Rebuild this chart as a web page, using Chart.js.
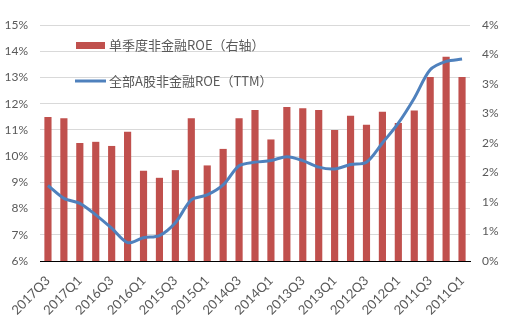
<!DOCTYPE html>
<html>
<head>
<meta charset="utf-8">
<script src="https://cdn.jsdelivr.net/npm/chart.js@4.4.0/dist/chart.umd.min.js"></script>
<style>
html,body{margin:0;padding:0;background:#fff;}
#wrap{width:512px;height:324px;}
</style>
</head>
<body>
<div id="wrap"><canvas id="c" width="512" height="324"></canvas></div>
<script>
const categories = ['2017Q3','2017Q2','2017Q1','2016Q4','2016Q3','2016Q2','2016Q1','2015Q4','2015Q3','2015Q2','2015Q1','2014Q4','2014Q3','2014Q2','2014Q1','2013Q4','2013Q3','2013Q2','2013Q1','2012Q4','2012Q3','2012Q2','2012Q1','2011Q4','2011Q3','2011Q2','2011Q1'];
const quarterlyROE = [2.44,2.42,2.00,2.02,1.95,2.19,1.53,1.41,1.54,2.42,1.62,1.90,2.42,2.56,2.06,2.61,2.59,2.56,2.22,2.46,2.31,2.53,2.34,2.55,3.12,3.46,3.12];
const ttmROE = [8.88,8.39,8.20,7.76,7.25,6.70,6.89,6.97,7.46,8.33,8.52,8.90,9.63,9.77,9.83,9.98,9.83,9.58,9.51,9.68,9.77,10.50,11.26,12.21,13.29,13.61,13.70];
const seriesNames = ['单季度非金融ROE（右轴）','全部A股非金融ROE（TTM）'];
const leftTicks = [6,15,1];
const rightTicks = [0,4,0.5];

const RED = '#C0504D', BLUE = '#4F81BD', TXT = '#595959';
const tickFont = {family:'Lato, "Noto Sans", sans-serif', size:12};

const legendPlugin = {
  id:'insideLegend',
  afterDatasetsDraw(chart){
    const ctx = chart.ctx;
    ctx.save();
    ctx.fillStyle = RED;
    ctx.fillRect(76,42,29,7);
    ctx.strokeStyle = BLUE; ctx.lineWidth = 3;
    ctx.beginPath(); ctx.moveTo(75,81); ctx.lineTo(106,81); ctx.stroke();
    ctx.fillStyle = TXT;
    ctx.font = '13px "Noto Sans CJK SC", sans-serif';
    ctx.textBaseline = 'middle';
    ctx.fillText(chart.data.datasets[1].label,109,45);
    ctx.fillText(chart.data.datasets[0].label,109,81);
    ctx.restore();
  }
};

new Chart(document.getElementById('c'),{
  data:{
    labels:categories,
    datasets:[
      {type:'line',label:seriesNames[1],data:ttmROE,yAxisID:'yL',borderColor:BLUE,backgroundColor:BLUE,borderWidth:3,pointRadius:0,tension:0.3,order:0},
      {type:'bar',label:seriesNames[0],data:quarterlyROE,yAxisID:'yR',backgroundColor:RED,barPercentage:0.9,categoryPercentage:0.5,order:1}
    ]
  },
  options:{
    responsive:false,
    animation:false,
    layout:{padding:{top:25,left:0,right:0,bottom:0}},
    plugins:{legend:{display:false},tooltip:{enabled:false}},
    scales:{
      x:{
        grid:{display:false,drawTicks:false},
        border:{color:'#000',width:1},
        ticks:{autoSkip:false,maxRotation:45,minRotation:45,padding:12,color:TXT,font:{family:'Lato, "Noto Sans", sans-serif',size:13},
          callback:function(v,i){return i%2===0?this.getLabelForValue(v):'';}},
        afterFit(s){s.height=63;}
      },
      yL:{
        position:'left',min:leftTicks[0],max:leftTicks[1],
        grid:{color:'#D9D9D9',drawTicks:false},
        border:{display:false},
        ticks:{stepSize:leftTicks[2],padding:12,color:TXT,font:tickFont,callback:v=>v+'%'},
        afterFit(s){s.width=40;}
      },
      yR:{
        position:'right',min:rightTicks[0],max:rightTicks[1],
        grid:{display:false,drawTicks:false},
        border:{display:false},
        ticks:{stepSize:rightTicks[2],padding:12,color:TXT,font:tickFont,callback:v=>Math.round(v)+'%'},
        afterFit(s){s.width=42;}
      }
    }
  },
  plugins:[legendPlugin]
});
</script>
</body>
</html>
